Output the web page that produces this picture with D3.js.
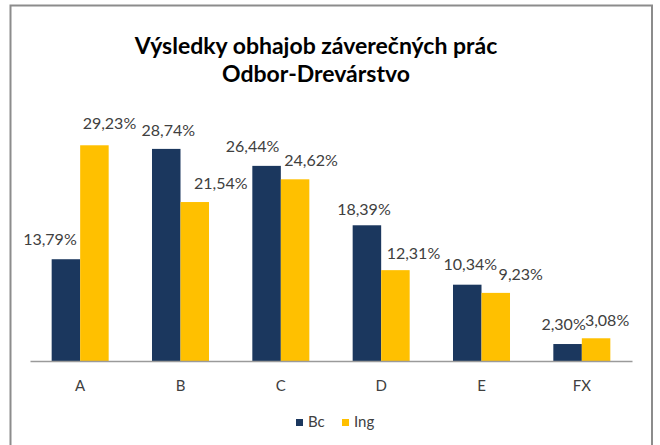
<!DOCTYPE html>
<html>
<head>
<meta charset="utf-8">
<script src="https://cdn.jsdelivr.net/npm/d3@7"></script>
<style>
  body { margin: 0; background: #fff; }
  text { font-family: Lato, "Open Sans", sans-serif; }
</style>
</head>
<body>
<svg id="chart"></svg>
<script>
const categories = ["A", "B", "C", "D", "E", "FX"];
const series = ["Bc", "Ing"];
const bcValues = [13.79, 28.74, 26.44, 18.39, 10.34, 2.3];
const ingValues = [29.23, 21.54, 24.62, 12.31, 9.23, 3.08];
const titleLines = ["Výsledky obhajob záverečných prác", "Odbor-Drevárstvo"];

// label nudges (px) so labels sit like in the original
const labelDx = {
  Bc: [-16, 2, -14, -3, 3, -4],
  Ing: [15, 26, 16, 18, 25, 11]
};
const labelDy = {
  Bc: [-14, -13, -14, -10, -15, -14],
  Ing: [-16, -13, -13, -11, -13, -12]
};

const colors = { Bc: "#1b375e", Ing: "#ffc000" };

const W = 660, H = 445;
const svg = d3.select("#chart").attr("width", W).attr("height", H);

svg.append("rect")
  .attr("x", 10.5).attr("y", 5.5)
  .attr("width", 641.5).attr("height", 460)
  .attr("fill", "#fff")
  .attr("stroke", "#8c8c8c")
  .attr("stroke-width", 2);

const title = svg.append("text")
  .attr("text-anchor", "middle")
  .attr("font-weight", "bold")
  .attr("font-size", 23)
  .attr("fill", "#000");
title.selectAll("tspan")
  .data(titleLines)
  .enter()
  .append("tspan")
  .attr("x", 316)
  .attr("y", (d, i) => 54 + i * 28)
  .text((d) => d);

const x0 = d3.scaleBand().domain(categories).range([30, 632]).padding(0);
const x1 = d3.scaleBand().domain(series).range([0, x0.bandwidth()])
  .paddingInner(0).paddingOuter(0.76);
const y = d3.scaleLinear().domain([0, 30]).range([361, 139.6]);

const rows = categories.map((c, i) => ({
  cat: c, i: i,
  vals: [
    { key: "Bc", value: bcValues[i] },
    { key: "Ing", value: ingValues[i] }
  ]
}));

const groups = svg.selectAll(".bar-group")
  .data(rows)
  .enter()
  .append("g")
  .attr("class", "bar-group")
  .attr("transform", (d) => `translate(${x0(d.cat)},0)`);

groups.selectAll("rect")
  .data((d) => d.vals)
  .enter()
  .append("rect")
  .attr("x", (d) => x1(d.key))
  .attr("y", (d) => y(d.value))
  .attr("width", x1.bandwidth())
  .attr("height", (d) => y(0) - y(d.value))
  .attr("fill", (d) => colors[d.key]);

groups.selectAll(".lbl")
  .data((d) => d.vals.map((v) => Object.assign({ i: d.i }, v)))
  .enter()
  .append("text")
  .attr("class", "lbl")
  .attr("text-anchor", "middle")
  .attr("font-size", 16)
  .attr("fill", "#404040")
  .attr("x", (d) => x1(d.key) + x1.bandwidth() / 2 + labelDx[d.key][d.i])
  .attr("y", (d) => y(d.value) + labelDy[d.key][d.i])
  .text((d) => d.value.toFixed(2).replace(".", ",") + "%");

// x axis
const xAxis = svg.append("g")
  .attr("transform", `translate(0,${y(0)})`)
  .call(d3.axisBottom(x0).tickSize(0).tickPadding(19));
xAxis.select(".domain").attr("stroke", "#9a9a9a").attr("stroke-width", 1.5);
xAxis.selectAll("text")
  .attr("font-size", 15)
  .attr("fill", "#404040")
  .attr("font-family", "Lato, sans-serif");

// legend
const legend = svg.selectAll(".legend")
  .data(series)
  .enter()
  .append("g")
  .attr("class", "legend")
  .attr("transform", (d, i) => `translate(${296 + i * 46},419)`);

legend.append("rect")
  .attr("width", 7).attr("height", 7)
  .attr("fill", (d) => colors[d]);

legend.append("text")
  .attr("x", 12).attr("y", 8)
  .attr("font-size", 15)
  .attr("fill", "#404040")
  .text((d) => d);
</script>
</body>
</html>
